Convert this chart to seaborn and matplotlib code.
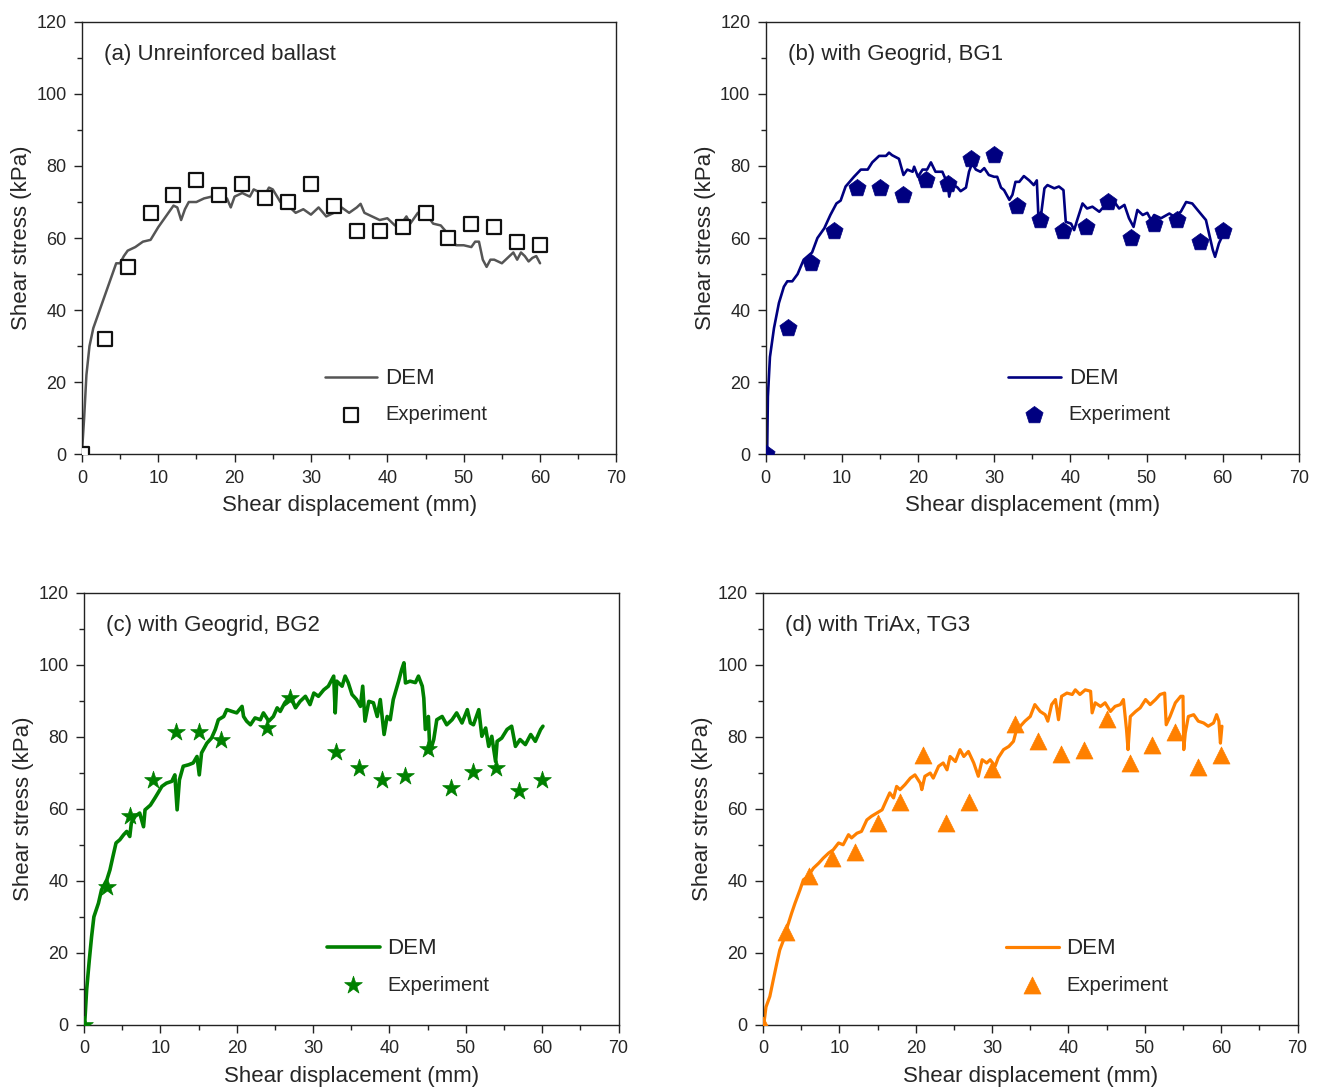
import matplotlib
matplotlib.use("Agg")
import matplotlib.pyplot as plt
from matplotlib.ticker import MultipleLocator
import seaborn as sns
import pandas as pd

# ---- data ----
exp_x = [0, 3, 6, 9, 12, 15, 18, 21, 24, 27, 30, 33, 36, 39, 42, 45, 48, 51, 54, 57, 60]

# (a) unreinforced ballast
a_exp_y = [0, 32, 52, 67, 72, 76, 72, 75, 71, 70, 75, 69, 62, 62, 63, 67, 60, 64, 63, 59, 58]
a_dem_x = [0, 0.3, 0.6, 1, 1.5, 2, 3, 4, 4.5, 5, 5.5, 6, 7, 8, 9, 10, 11, 12, 12.5, 13, 13.5,
           14, 15, 16, 17, 18, 19, 19.5, 20, 21, 22, 22.5, 23, 24, 24.5, 25, 26, 27, 28, 29,
           30, 31, 32, 33, 34, 35, 36, 36.5, 37, 38, 39, 40, 41, 42, 42.5, 43, 44, 45, 46,
           47, 48, 49, 50, 51, 51.5, 52, 52.5, 53, 53.5, 54, 55, 56, 56.5, 57, 57.5, 58,
           58.5, 59, 59.5, 60]
a_dem_y = [0, 10, 22, 30, 35, 38, 44, 50, 53, 53, 55, 56.5, 57.5, 59, 59.5, 63, 66, 69, 68.5,
           65, 68, 70, 70, 71, 71.5, 72, 71, 68.5, 71.5, 72.5, 71.5, 73.5, 73, 72, 74, 73.5,
           70, 69, 67, 68, 66.5, 68.5, 66, 67, 68.5, 67, 68.5, 69.5, 67, 66, 65, 65.5, 63.5,
           64.5, 66, 64, 67, 67, 64, 63.5, 61, 58, 58, 57.5, 59, 59, 54, 52, 54, 54, 53, 55,
           56, 54, 56, 55, 53.5, 54.5, 55, 53]

# (b) with geogrid BG1
b_exp_y = [0, 35, 53, 62, 74, 74, 72, 76, 75, 82, 83, 69, 65, 62, 63, 70, 60, 64, 65, 59, 62]
b_dem_x = [0.2, 0.3, 0.57, 1.1, 1.75, 2.4, 2.85, 3.5, 4.2, 5, 6.1, 6.8, 7.7, 8.5, 9.3, 9.85,
           10.5, 11.6, 12.5, 13.4, 14, 14.9, 15.8, 16.2, 16.6, 17.5, 18.1, 18.6, 19.3, 19.5,
           20, 20.6, 21.2, 21.7, 22.3, 23.2, 23.9, 24.1, 24.5, 25.2, 25.6, 26.3, 26.7, 27.1,
           27.6, 28.2, 28.7, 29.3, 30, 30.4, 30.9, 31.3, 32, 32.4, 32.8, 33.3, 33.9, 34.6,
           35.2, 35.6, 35.8, 36.1, 36.6, 37, 37.9, 38.5, 39.1, 39.4, 40.1, 40.5, 40.9, 41.6,
           42.2, 42.9, 43.8, 44.4, 45.1, 45.8, 46.4, 47.1, 47.7, 48.3, 48.8, 49.5, 50.1,
           50.6, 51, 51.9, 53, 53.6, 54.5, 55.2, 56, 56.7, 57.8, 58.2, 58.7, 59, 59.5, 60]
b_dem_y = [0, 16, 27, 35, 42, 46.5, 48, 48, 50, 54, 56, 60, 62.7, 66.4, 69.6, 70.4, 74.3, 77,
           79, 79, 81, 82.8, 82.8, 83.7, 83, 82, 77.5, 79, 78.4, 79.8, 77, 79, 79, 81, 78.4,
           78.4, 75, 71.5, 75, 74, 73, 74, 78.4, 80.7, 79, 78.4, 79.4, 77.5, 77, 77, 74, 73.3,
           70.6, 72, 75.6, 75.6, 77.2, 76, 74.7, 76, 66.4, 65.5, 73.8, 74.7, 73.8, 74.3, 73.3,
           64.5, 64, 62.2, 65, 69.6, 68.2, 68.7, 67.3, 68.7, 68.2, 70, 68.2, 69.2, 65.5, 63.1,
           67.8, 66.4, 67, 65, 66.4, 65.5, 66.8, 66, 67.3, 70, 69.6, 67.8, 65, 61.3, 56.7,
           54.8, 58.5, 60.8]

# (c) with geogrid BG2
c_exp_x = [0, 3, 6, 9, 12, 15, 18, 24, 27, 33, 36, 39, 42, 45, 48, 51, 54, 57, 60]
c_exp_y = [0, 38.2, 58, 68, 81.2, 81.2, 79, 82.5, 90.7, 75.7, 71.3, 68, 69.2, 76.7, 65.7,
           70.2, 71.3, 64.8, 68]
c_dem_x = [0.1, 0.35, 0.7, 1.0, 1.3, 1.9, 2.3, 3, 3.4, 3.8, 4.2, 4.7, 5.2, 5.6, 6, 6.2, 6.7,
           7.3, 7.8, 8, 8.7, 9.3, 9.7, 10.2, 10.8, 11.5, 11.9, 12.2, 12.5, 13, 13.7, 14.3,
           14.8, 15.1, 15.4, 16.1, 16.7, 17.2, 17.6, 18.3, 18.7, 19.4, 20, 20.7, 20.9, 21.3,
           21.8, 22.4, 23.1, 23.5, 24.2, 24.8, 25.3, 25.7, 26.3, 27, 27.7, 28.3, 29, 29.6,
           30.1, 30.7, 31.4, 32, 32.7, 32.9, 33.1, 33.8, 34.2, 34.6, 35.1, 35.7, 36.2, 36.5,
           36.8, 37.3, 37.9, 38.4, 38.8, 39.3, 39.7, 40.1, 40.5, 41.2, 41.6, 41.9, 42.1, 42.7,
           43.4, 43.8, 44.3, 44.5, 44.7, 45.1, 45.3, 45.8, 46.2, 46.9, 47.5, 48.2, 48.8, 49.5,
           50.2, 50.6, 51, 51.7, 52.1, 52.6, 53, 53.4, 53.9, 54.1, 54.7, 55.4, 56, 56.5, 57.1,
           57.8, 58.5, 59.1, 59.8, 60.1]
c_dem_y = [0.5, 9.7, 18, 24.5, 30, 33.8, 37.5, 40.3, 43, 46.8, 50.5, 51.4, 52.8, 53.7, 52.3,
           56, 57.9, 58.8, 55, 59.7, 61, 63, 64.4, 66.2, 67.1, 67.6, 69.4, 59.7, 68, 71.8,
           72.2, 72.7, 74.5, 69.4, 75.5, 78.2, 79.6, 82, 84.7, 85.6, 87.5, 87, 86.6, 88.4,
           85.6, 84.3, 83.3, 85.2, 84.7, 86.6, 84.3, 85.6, 88, 87, 89.4, 91.2, 88, 89.8, 91.2,
           88.9, 92.1, 91.2, 93, 94, 96.8, 86.6, 95.4, 94, 96.8, 95, 91.7, 90.3, 88.4, 94,
           84.3, 89.8, 89.4, 85.6, 90.3, 80.6, 85.6, 84.7, 90.3, 95.4, 98.6, 100.5, 94.9, 95.4,
           95, 96.8, 94, 90.7, 82, 85.6, 75.5, 79.2, 84.7, 85.6, 83.3, 84.7, 86.6, 83.8, 87.5,
           83.8, 83.3, 87.5, 80.1, 82.4, 77.3, 80.1, 73.1, 78.7, 79.6, 82, 82.9, 77.3, 79.2,
           77.8, 80.6, 78.7, 82, 82.9]

# (d) with TriAx TG3
d_exp_y = [0, 25.9, 41.2, 46.3, 48.1, 56, 62, 75, 56, 62, 71, 83.6, 78.7, 75.3, 76.4, 84.9,
           72.7, 77.6, 81.3, 71.6, 75]
d_dem_x = [0.1, 0.4, 0.9, 1.35, 1.8, 2.2, 2.7, 3.2, 3.75, 4.2, 4.85, 5.3, 5.9, 6.6, 7.3, 7.9,
           8.6, 9.2, 9.9, 10.5, 11.2, 11.6, 12.3, 12.9, 13.6, 14.2, 14.9, 15.6, 16, 16.6,
           17.1, 17.5, 17.95, 18.6, 19.3, 19.9, 20.6, 20.8, 21.2, 21.9, 22.3, 23, 23.6, 24.1,
           24.5, 25.2, 25.8, 26.3, 26.9, 27.6, 28.2, 28.7, 29.3, 29.75, 30.4, 30.8, 31.5,
           32.2, 32.8, 33.2, 33.7, 34.3, 35, 35.6, 36.3, 36.95, 37.3, 37.8, 38.3, 38.7, 39.1,
           39.8, 40.5, 40.9, 41.5, 42.2, 42.9, 43.1, 43.5, 44.2, 44.8, 45.5, 46.1, 46.8, 47.2,
           47.6, 47.8, 48.1, 48.8, 49.4, 50.1, 50.7, 51.4, 52, 52.6, 52.8, 53.3, 54, 54.7, 55,
           55.1, 55.3, 55.7, 56.4, 57, 57.7, 58.3, 59, 59.4, 59.7, 59.9, 60.1]
d_dem_y = [0, 5, 7.9, 12.5, 17, 20.8, 23.6, 27.3, 31, 33.8, 37.5, 40.3, 41.2, 43.5, 44.9, 46.3,
           47.7, 48.6, 50.5, 50, 52.8, 51.9, 53.2, 53.7, 56.9, 57.9, 58.8, 59.7, 61.6, 64.4,
           63, 66.2, 65.3, 66.7, 68.5, 69.4, 67.1, 65.3, 69, 69.9, 68.5, 71.8, 72.7, 70.8,
           74.5, 73.1, 76.4, 74.5, 75.9, 72.7, 69, 73.6, 72.7, 73.6, 71.8, 74.1, 76.4, 77.3,
           78.7, 81.9, 82.9, 84.3, 85.6, 88.9, 87, 86.1, 84.3, 88.9, 90.3, 84.7, 91.2, 92.1,
           91.7, 93, 91.7, 93, 92.6, 86.6, 89.4, 88.4, 89.4, 87, 88.4, 88.9, 90.3, 82, 76.4,
           85.6, 87, 88, 90.3, 88.9, 90.3, 91.7, 92.1, 83.3, 85.6, 89.4, 91.2, 91.2, 76.4, 81,
           85.6, 86.1, 84.3, 83.8, 82.9, 83.8, 86.1, 84.3, 78.2, 82.9]

panels = [
    ("(a) Unreinforced ballast", a_dem_x, a_dem_y, exp_x, a_exp_y, "#555555", "s"),
    ("(b) with Geogrid, BG1", b_dem_x, b_dem_y, exp_x, b_exp_y, "#000080", "p"),
    ("(c) with Geogrid, BG2", c_dem_x, c_dem_y, c_exp_x, c_exp_y, "#008000", "*"),
    ("(d) with TriAx, TG3", d_dem_x, d_dem_y, exp_x, d_exp_y, "#ff8000", "^"),
]

sns.set_style("ticks")
plt.rcParams['font.family'] = ['Liberation Sans', 'DejaVu Sans']

fig = plt.figure(figsize=(13.2, 10.92), dpi=100)
rects = [
    [0.062, 0.584, 0.405, 0.396],
    [0.580, 0.584, 0.404, 0.396],
    [0.0636, 0.0614, 0.405, 0.396],
    [0.578, 0.0614, 0.405, 0.396],
]
marker_size = {"s": 100, "p": 170, "*": 180, "^": 150}
line_width = {"s": 1.8, "p": 1.9, "*": 2.6, "^": 2.3}

for rect, (title, dx, dy, ex, ey, color, mk) in zip(rects, panels):
    ax = fig.add_axes(rect)
    dem = pd.DataFrame({"x": dx, "y": dy})
    exp = pd.DataFrame({"x": ex, "y": ey})
    sns.lineplot(data=dem, x="x", y="y", ax=ax, color=color, lw=line_width[mk],
                 sort=False, estimator=None, label="DEM")
    if mk == "s":
        sns.scatterplot(data=exp, x="x", y="y", ax=ax, marker="s", s=marker_size[mk],
                        facecolor="white", edgecolor="#111111", linewidth=1.6,
                        label="Experiment", zorder=3)
    else:
        sns.scatterplot(data=exp, x="x", y="y", ax=ax, marker=mk, s=marker_size[mk],
                        color=color, edgecolor=color, linewidth=0.5,
                        label="Experiment", zorder=3)

    ax.set_xlim(0, 70)
    ax.set_ylim(0, 120)
    ax.xaxis.set_major_locator(MultipleLocator(10))
    ax.xaxis.set_minor_locator(MultipleLocator(5))
    ax.yaxis.set_major_locator(MultipleLocator(20))
    ax.yaxis.set_minor_locator(MultipleLocator(10))
    ax.tick_params(which="major", direction="out", length=6, width=1.0, labelsize=13,
                   color="#222222", top=False, right=False, pad=5)
    ax.tick_params(which="minor", direction="out", length=3.5, width=1.0, color="#222222",
                   top=False, right=False)
    for sp in ax.spines.values():
        sp.set_visible(True)
        sp.set_color("#222222")
        sp.set_linewidth(1.0)
    ax.set_xlabel("Shear displacement (mm)", fontsize=16, labelpad=6)
    ax.set_ylabel("Shear stress (kPa)", fontsize=16, labelpad=3)
    ax.text(0.042, 0.924, title, transform=ax.transAxes, fontsize=16, va="center", ha="left")

    leg = ax.legend(loc="upper left", bbox_to_anchor=(0.455, 0.2), frameon=False,
                    borderaxespad=0, borderpad=0, handlelength=2.6, handletextpad=0.4,
                    labelspacing=0.8, fontsize=14.5)
    leg.get_texts()[0].set_fontsize(16)

fig.savefig("out.png", dpi=100)
